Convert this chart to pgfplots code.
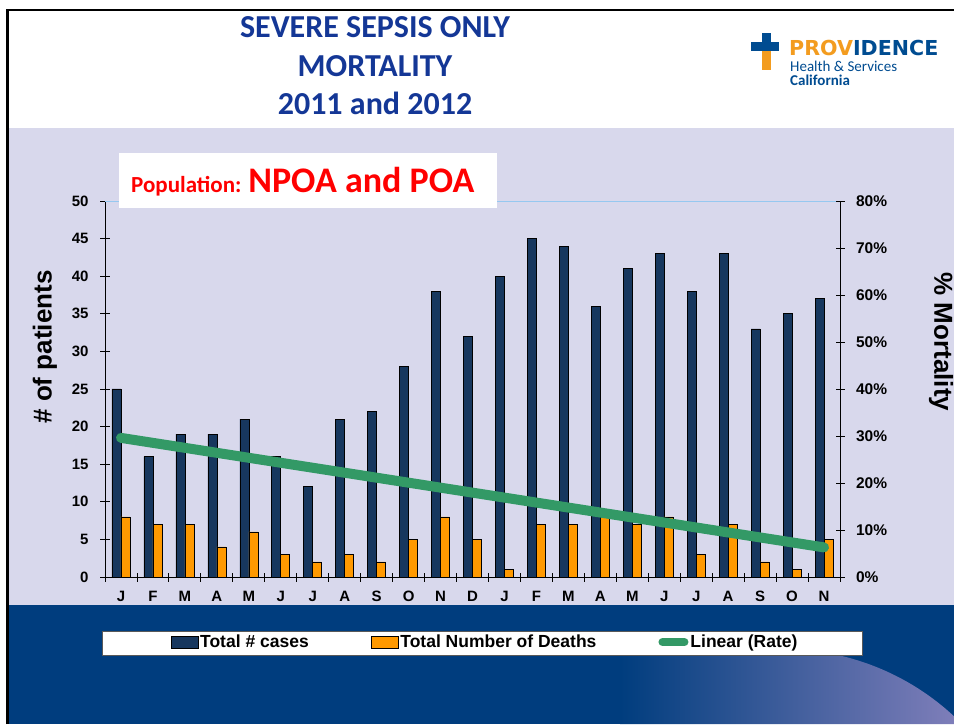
\documentclass[border=0pt]{standalone}
\usepackage{fontspec}
\setmainfont{Liberation Sans}
\newfontfamily\carlito{Carlito}
\newfontfamily\dejavu{DejaVu Sans}
\usepackage{pgfplots}
\pgfplotsset{compat=1.18}
\pgfplotsset{
  barleg/.style={legend image code/.code={\draw[##1] (0pt,-6pt) rectangle (27pt,6pt);}},
  lineleg/.style={legend image code/.code={\draw[##1] (4pt,0pt) -- (26pt,0pt);}},
}
\definecolor{lav}{RGB}{216,216,236}
\definecolor{dblue}{RGB}{0,61,126}
\definecolor{swl}{RGB}{134,130,189}
\definecolor{navybar}{RGB}{23,55,94}
\definecolor{orangebar}{RGB}{255,153,0}
\definecolor{trend}{RGB}{51,153,102}
\definecolor{titleblue}{RGB}{20,55,150}
\definecolor{logoblue}{RGB}{0,76,145}
\definecolor{logoorange}{RGB}{243,156,31}
\definecolor{topline}{RGB}{150,200,240}
\begin{document}
\begin{tikzpicture}[x=1pt,y=1pt]
% backgrounds
\fill[white] (0,0) rectangle (954,724);
\fill[lav] (7.5,119) rectangle (954,596);
\fill[dblue] (7.5,0) rectangle (954,119);
\begin{scope}
\clip (7.5,0) rectangle (954,119);
\shade[left color=dblue, right color=swl] (620,0) -- (620,75) -- (783,75) arc (90:40:251) -- (975,0) -- cycle;
\end{scope}
\draw[black, line width=2.5pt] (7.5,0) -- (7.5,714) -- (954,714);
% title
\node[font=\carlito\bfseries\fontsize{32}{38.5}\selectfont, text=titleblue, align=center, anchor=north] at (375,711) {SEVERE SEPSIS ONLY\\MORTALITY\\2011 and 2012};
% logo
\fill[logoblue] (751,673) rectangle (779,682);
\fill[logoblue] (762,682) rectangle (771,691);
\fill[logoorange] (762,654) rectangle (771,673);
\fill[logoblue] (762,673) rectangle (771,682);
\node[anchor=base west, inner sep=0pt, font=\dejavu\bfseries\fontsize{20.6}{20.6}\selectfont] at (789,668) {\textcolor{logoorange}{PROV}\textcolor{logoblue}{IDENCE}};
\node[anchor=base west, inner sep=0pt, font=\carlito\fontsize{15}{15}\selectfont, text=logoblue] at (790,652.3) {Health \& Services};
\node[anchor=base west, inner sep=0pt, font=\carlito\bfseries\fontsize{15}{15}\selectfont, text=logoblue] at (790,638.3) {California};
% legend box
\fill[white] (102,69) rectangle (862,93);
\draw[gray!70!black, line width=0.8pt] (102,69) rectangle (862,93);

\begin{axis}[
  at={(105pt,147pt)}, anchor=south west, scale only axis,
  width=735pt, height=376pt,
  xmin=-0.5, xmax=22.5, ymin=0, ymax=50,
  axis x line*=bottom, axis y line*=left,
  axis line style={black, line width=0.9pt, -},
  ybar=0pt, bar width=9pt,
  xtick={0,...,22},
  xticklabels={J,F,M,A,M,J,J,A,S,O,N,D,J,F,M,A,M,J,J,A,S,O,N},
  minor xtick={-0.5,0.5,...,22.5},
  major x tick style={draw=none},
  ytick={0,5,...,50},
  tick align=center,
  major tick length=10pt, minor tick length=9pt,
  tick style={black, line width=0.9pt},
  /pgf/number format/assume math mode=true,
  xticklabel style={font=\bfseries\fontsize{15}{15}\selectfont, text height=11pt, text depth=0pt, yshift=-5pt},
  yticklabel style={font=\bfseries\fontsize{15}{15}\selectfont, xshift=-8pt},
  clip=false,
  legend columns=3,
  legend style={at={(0.517,-0.173)}, anchor=center, draw=none, fill=none,
    font=\bfseries\fontsize{17.5}{17.5}\selectfont,
    /tikz/every even column/.append style={column sep=60pt},
    inner sep=0pt},
]
\draw[topline, line width=0.8pt] (axis cs:-0.5,50) -- (axis cs:22.5,50);
\addplot[fill=navybar, draw=black, line width=0.6pt, barleg]
  coordinates {(0,25) (1,16) (2,19) (3,19) (4,21) (5,16) (6,12) (7,21) (8,22) (9,28) (10,38) (11,32) (12,40) (13,45) (14,44) (15,36) (16,41) (17,43) (18,38) (19,43) (20,33) (21,35) (22,37)};
\addlegendentry{Total \# cases}
\addplot[fill=orangebar, draw=black, line width=0.6pt, barleg]
  coordinates {(0,8) (1,7) (2,7) (3,4) (4,6) (5,3) (6,2) (7,3) (8,2) (9,5) (10,8) (11,5) (12,1) (13,7) (14,7) (15,8) (16,7) (17,8) (18,3) (19,7) (20,2) (21,1) (22,5)};
\addlegendentry{Total Number of Deaths}
\addlegendimage{trend, line width=8pt, line cap=round, lineleg}
\addlegendentry{Linear (Rate)}
\end{axis}

\begin{axis}[
  at={(105pt,147pt)}, anchor=south west, scale only axis,
  width=735pt, height=376pt,
  xmin=-0.5, xmax=22.5, ymin=0, ymax=80,
  axis x line=none, axis y line*=right,
  axis line style={black, line width=0.9pt, -},
  ytick={0,10,...,80},
  yticklabel={\pgfmathprintnumber{\tick}\%},
  tick align=center, major tick length=9pt,
  tick style={black, line width=0.9pt},
  /pgf/number format/assume math mode=true,
  yticklabel style={font=\bfseries\fontsize{15.5}{15.5}\selectfont, xshift=8pt},
  clip=false,
]
\addplot[trend, line width=10pt, line cap=round] coordinates {(0,29.6) (22,6.3)};
\end{axis}

% axis titles
\node[rotate=90, font=\bfseries\fontsize{26}{26}\selectfont] at (45,377) {\# of patients};
\node[rotate=-90, font=\bfseries\fontsize{26}{26}\selectfont] at (941,382) {\% Mortality};
% population box
\fill[white] (119,516) rectangle (497,571);
\node[anchor=base west, inner sep=0pt, text=red, font=\carlito\bfseries] at (131,531.3) {\fontsize{23}{23}\selectfont Population: \fontsize{36}{36}\selectfont NPOA and POA};
\pgfresetboundingbox
\path[use as bounding box] (0,0) rectangle (954,724);
\end{tikzpicture}
\end{document}
